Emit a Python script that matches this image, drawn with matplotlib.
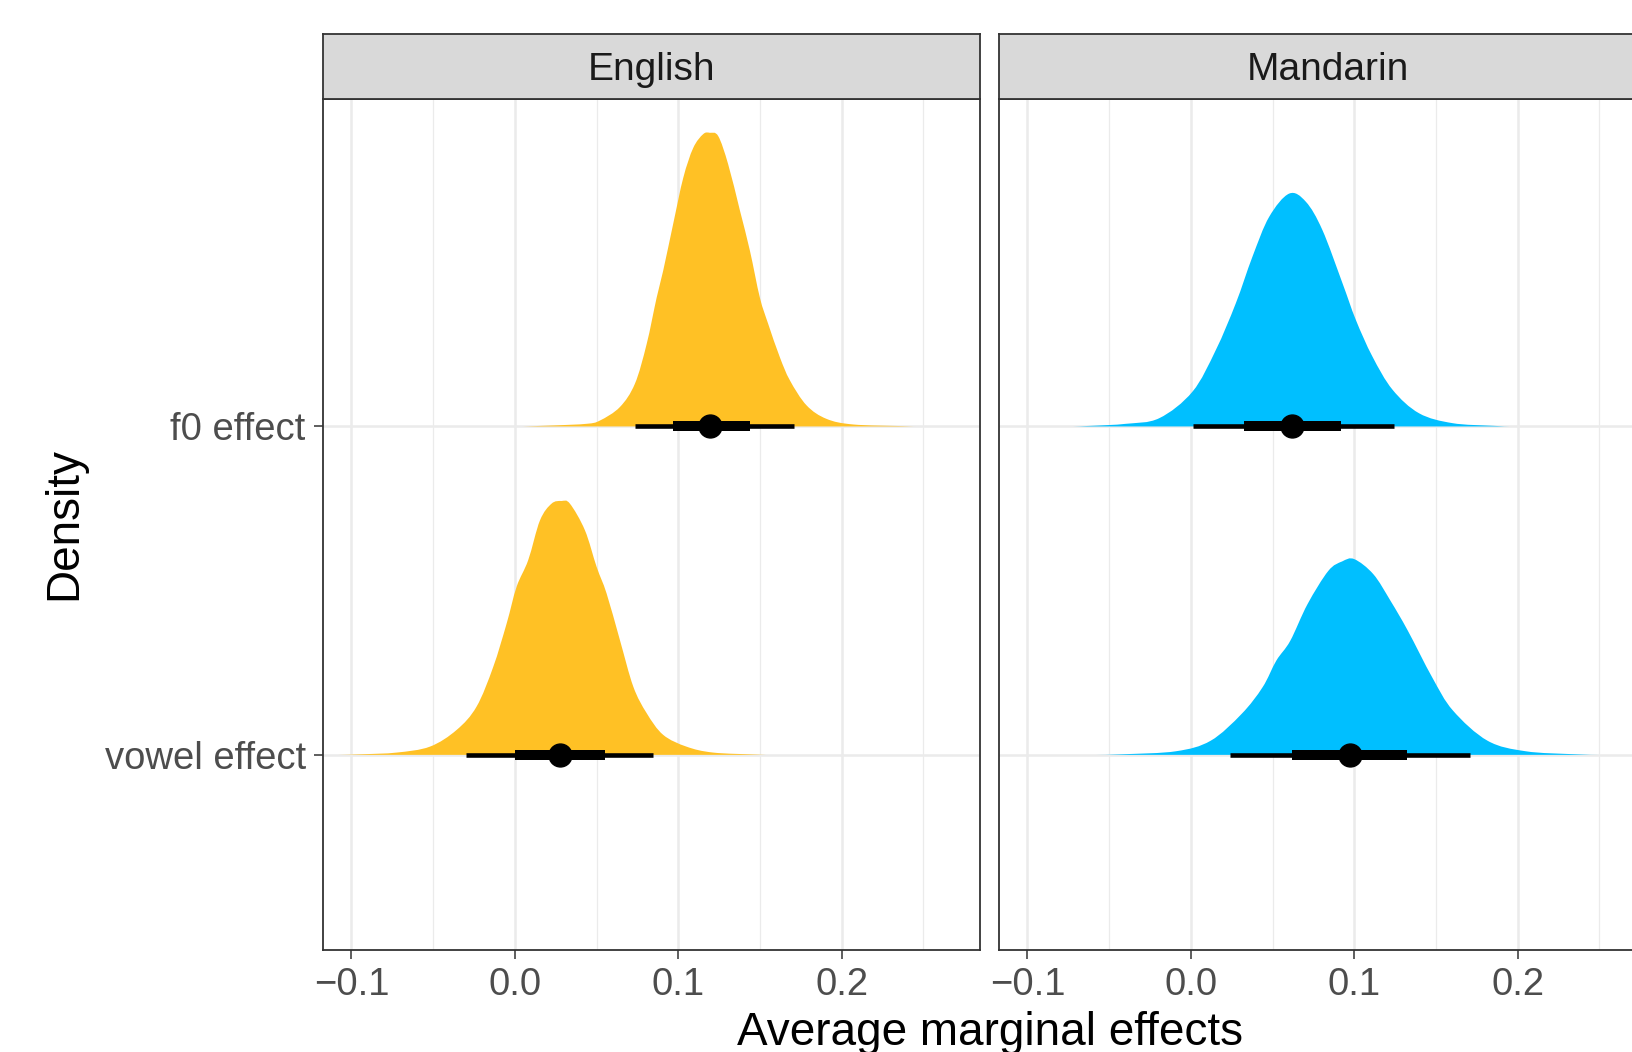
import matplotlib
matplotlib.use('AGG')
import matplotlib.pyplot as plt
from matplotlib.ticker import MultipleLocator
from matplotlib.path import Path
from matplotlib.patches import PathPatch
import numpy as np

plt.rcParams['font.family'] = ['Liberation Sans', 'DejaVu Sans']

LANGS = ['English', 'Mandarin']
EFFECTS = ['vowel effect', 'f0 effect']   # row 1, row 2
colors = {'English': '#FFC125', 'Mandarin': '#00BFFF'}

# density outlines: x = effect, h = height in row units
eng_f0_x = [0.005, 0.0235, 0.0439, 0.0521, 0.0643, 0.0735, 0.0807, 0.0868, 0.0908, 0.0969, 0.1031,
            0.1092, 0.1153, 0.1194, 0.1245, 0.1306, 0.1378, 0.1439, 0.1500, 0.1551, 0.1622,
            0.1684, 0.1786, 0.1908, 0.2071, 0.2375, 0.245]
eng_f0_h = [0.0, 0.003, 0.008, 0.018, 0.059, 0.130, 0.251, 0.392, 0.474, 0.616, 0.757,
            0.848, 0.890, 0.894, 0.884, 0.798, 0.657, 0.535, 0.392, 0.312, 0.211,
            0.140, 0.064, 0.023, 0.006, 0.001, 0.0]

eng_vowel_x = [-0.108, -0.0928, -0.0723, -0.0520, -0.0356, -0.0234, -0.0132, -0.0050, 0.0011, 0.0082,
               0.0154, 0.0225, 0.0286, 0.0337, 0.0429, 0.0501, 0.0562, 0.0643, 0.0725,
               0.0807, 0.0908, 0.1051, 0.1214, 0.1480, 0.155]
eng_vowel_h = [0.0, 0.002, 0.007, 0.025, 0.076, 0.147, 0.268, 0.400, 0.512, 0.593,
               0.714, 0.765, 0.773, 0.765, 0.684, 0.572, 0.491, 0.350, 0.208,
               0.127, 0.061, 0.025, 0.007, 0.001, 0.0]

man_f0_x = [-0.072, -0.0602, -0.0398, -0.0194, 0.0010, 0.0153, 0.0275, 0.0377, 0.0479, 0.0602,
            0.0704, 0.0805, 0.0928, 0.1010, 0.1111, 0.1234, 0.1397, 0.1601, 0.1846, 0.195]
man_f0_h = [0.0, 0.002, 0.008, 0.025, 0.106, 0.233, 0.375, 0.517, 0.638, 0.709,
            0.684, 0.598, 0.436, 0.324, 0.213, 0.112, 0.040, 0.010, 0.002, 0.0]

man_vowel_x = [-0.058, -0.0409, -0.0091, 0.0121, 0.0311, 0.0439, 0.0523, 0.0608, 0.0714, 0.0841, 0.0926,
               0.1000, 0.1117, 0.1222, 0.1328, 0.1477, 0.1604, 0.1816, 0.2049, 0.2345, 0.25]
man_vowel_h = [0.0, 0.002, 0.011, 0.043, 0.125, 0.206, 0.287, 0.347, 0.459, 0.560, 0.589,
               0.596, 0.550, 0.469, 0.378, 0.236, 0.135, 0.043, 0.011, 0.002, 0.0]

# point estimate, 66% and 95% intervals
eng_f0_iv = [0.1194, 0.0966, 0.1439, 0.0735, 0.1708]
eng_vowel_iv = [0.0276, 0.0001, 0.0551, -0.0299, 0.0843]
man_f0_iv = [0.0616, 0.0326, 0.0918, 0.0010, 0.1244]
man_vowel_iv = [0.0972, 0.0619, 0.1324, 0.0237, 0.1710]

densities = {
    ('English', 'f0 effect'): (eng_f0_x, eng_f0_h, eng_f0_iv),
    ('English', 'vowel effect'): (eng_vowel_x, eng_vowel_h, eng_vowel_iv),
    ('Mandarin', 'f0 effect'): (man_f0_x, man_f0_h, man_f0_iv),
    ('Mandarin', 'vowel effect'): (man_vowel_x, man_vowel_h, man_vowel_iv),
}

TICK_FS = 27.5
STRIP_FS = 28
TITLE_FS = 33
border = '#333333'


def smooth_outline(xs, ys, base):
    # catmull-rom through the read points, drawn as bezier segments
    pts = np.column_stack([xs, base + np.array(ys)])
    verts = [(xs[0], base), tuple(pts[0])]
    codes = [Path.MOVETO, Path.LINETO]
    n = len(pts)
    for k in range(n - 1):
        p0 = pts[max(k - 1, 0)]
        p1 = pts[k]
        p2 = pts[k + 1]
        p3 = pts[min(k + 2, n - 1)]
        c1 = p1 + (p2 - p0) / 6
        c2 = p2 - (p3 - p1) / 6
        verts += [tuple(c1), tuple(c2), tuple(p2)]
        codes += [Path.CURVE4] * 3
    verts += [(xs[-1], base), (xs[0], base)]
    codes += [Path.LINETO, Path.CLOSEPOLY]
    return Path(verts, codes)


fig = plt.figure(figsize=(16.33, 10.52), dpi=100)
lefts = [0.1978, 0.6118]
W = 0.4023

for i, lang in enumerate(LANGS):
    ax = fig.add_axes([lefts[i], 0.0970, W, 0.8089])
    ax.set_xlim(-0.1174, 0.2847)
    ax.set_ylim(0.406, 2.997)
    # grid like theme_bw
    ax.xaxis.set_major_locator(MultipleLocator(0.1))
    ax.xaxis.set_minor_locator(MultipleLocator(0.05))
    ax.grid(axis='x', which='major', color='#EBEBEB', lw=1.8, zorder=0)
    ax.grid(axis='x', which='minor', color='#EBEBEB', lw=0.9, zorder=0)
    ax.grid(axis='y', which='major', color='#EBEBEB', lw=1.8, zorder=0)
    ax.set_axisbelow(True)

    for row, eff in enumerate(EFFECTS, start=1):
        xs, hs, iv = densities[(lang, eff)]
        ax.add_patch(PathPatch(smooth_outline(xs, hs, row), facecolor=colors[lang], lw=0, zorder=2))
        ax.plot([iv[3], iv[4]], [row, row], color='black', lw=3.3, solid_capstyle='butt', zorder=3)
        ax.plot([iv[1], iv[2]], [row, row], color='black', lw=7.2, solid_capstyle='butt', zorder=4)
        ax.plot([iv[0]], [row], 'o', color='black', ms=16.5, zorder=5)

    ax.set_xticks([-0.1, 0.0, 0.1, 0.2])
    ax.set_xticklabels(['\u22120.1', '0.0', '0.1', '0.2'])
    ax.set_yticks([1, 2])
    ax.tick_params(axis='both', which='major', labelsize=TICK_FS, labelcolor='#4D4D4D',
                   color=border, width=1.1, length=6.5, pad=6)
    ax.tick_params(axis='x', which='minor', length=0)
    if i == 0:
        ax.set_yticklabels(EFFECTS)
    else:
        ax.set_yticklabels([])
        ax.tick_params(axis='y', which='both', length=0)
    for s in ax.spines.values():
        s.set_color(border)
        s.set_linewidth(1.3)

    # facet strip
    st = fig.add_axes([lefts[i], 0.9059, W, 0.0618])
    st.set_facecolor('#D9D9D9')
    st.set_xticks([])
    st.set_yticks([])
    for s in st.spines.values():
        s.set_color(border)
        s.set_linewidth(1.3)
    st.text(0.5, 0.44, lang, transform=st.transAxes, ha='center', va='center',
            fontsize=STRIP_FS, color='#1A1A1A')

fig.text(0.606, 0.0067, 'Average marginal effects', ha='center', va='baseline', fontsize=TITLE_FS)
fig.text(0.0395, 0.502, 'Density', rotation=90, ha='center', va='center', fontsize=TITLE_FS)

plt.savefig('out.png', dpi=100)
